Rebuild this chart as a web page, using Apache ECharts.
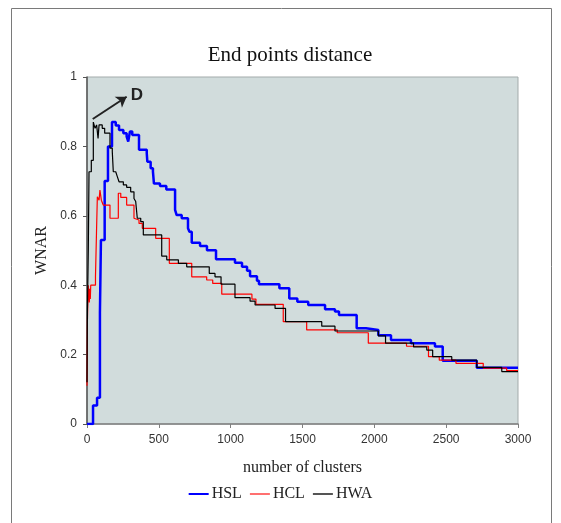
<!DOCTYPE html>
<html>
<head>
<meta charset="utf-8">
<script src="https://cdn.jsdelivr.net/npm/echarts@6/dist/echarts.min.js"></script>
<style>
  html, body { margin: 0; padding: 0; background: #fff; }
  #chart { width: 561px; height: 523px; }
</style>
</head>
<body>
<div id="chart"></div>
<script>
// step points: [number of clusters, WNAR] - value holds until the next point
const hslPoints = [
    [0, 0], [42, 0.053], [70, 0.076], [90, 0.32], [97, 0.53], [123, 0.70], [146, 0.80],
    [174, 0.87], [200, 0.86], [223, 0.847], [253, 0.838], [276, 0.828], [287, 0.814],
    [299, 0.843], [315, 0.833], [362, 0.79], [416, 0.78], [420, 0.756], [443, 0.737],
    [459, 0.727], [466, 0.693], [508, 0.686], [552, 0.676], [613, 0.617], [624, 0.602],
    [659, 0.593], [703, 0.564], [713, 0.554], [729, 0.522], [787, 0.513], [835, 0.501],
    [898, 0.475], [1030, 0.465], [1079, 0.453], [1114, 0.442], [1135, 0.426], [1183, 0.413],
    [1197, 0.403], [1339, 0.391], [1408, 0.362], [1464, 0.352], [1540, 0.343], [1657, 0.331],
    [1726, 0.324], [1754, 0.314], [1877, 0.276], [1942, 0.271], [2028, 0.256], [2116, 0.242],
    [2255, 0.233], [2422, 0.223], [2476, 0.182], [2713, 0.162], [3000, 0.162]
];

const hclPoints = [
    [0, 0.11], [3, 0.30], [9, 0.40], [16, 0.35], [19, 0.39], [23, 0.36], [26, 0.40],
    [59, 0.424], [66, 0.55], [72, 0.655], [84, 0.645], [90, 0.674], [100, 0.645],
    [113, 0.631], [160, 0.593], [218, 0.665], [235, 0.653], [276, 0.631], [327, 0.593],
    [339, 0.588], [362, 0.578], [385, 0.564], [478, 0.535], [573, 0.463], [729, 0.424],
    [833, 0.415], [875, 0.405], [938, 0.374], [1148, 0.36], [1176, 0.345], [1366, 0.295],
    [1529, 0.271], [1742, 0.263], [1958, 0.233], [2224, 0.224], [2377, 0.194], [2452, 0.184],
    [2568, 0.175], [2758, 0.161], [2921, 0.154], [3000, 0.154]
];

const hwaPoints = [
    [0, 0.12], [3, 0.33], [9, 0.50], [14, 0.727], [30, 0.76], [44, 0.87], [56, 0.852],
    [67, 0.862], [77, 0.823], [84, 0.862], [106, 0.852], [123, 0.838], [160, 0.795],
    [176, 0.785], [183, 0.727], [200, 0.722], [211, 0.713], [223, 0.698], [253, 0.689],
    [276, 0.682], [304, 0.669], [327, 0.65], [339, 0.641], [350, 0.593], [374, 0.583],
    [392, 0.545], [520, 0.484], [555, 0.473], [636, 0.463], [694, 0.453], [851, 0.434],
    [891, 0.424], [933, 0.403], [1030, 0.364], [1135, 0.354], [1170, 0.343], [1309, 0.333],
    [1382, 0.295], [1634, 0.282], [1726, 0.268], [2028, 0.254], [2078, 0.233], [2273, 0.222],
    [2365, 0.213], [2406, 0.194], [2539, 0.184], [2713, 0.163], [2887, 0.151], [3000, 0.151]
];

const seriesNames = ['HSL', 'HCL', 'HWA'];
const xTicks = [0, 500, 1000, 1500, 2000, 2500, 3000];
const yTicks = [0, 0.2, 0.4, 0.6, 0.8, 1];

// annotation "D": arrow from/to and label spot, in data units
const arrowFrom = [40, 0.879];
const arrowTo = [276, 0.943];
const labelAt = [348, 0.948];

const serif = 'Liberation Serif';
const sans = 'Liberation Sans';

const chart = echarts.init(document.getElementById('chart'), null, { renderer: 'canvas' });

function stepSeries(name, data, color, width, extra) {
    return Object.assign({
        name: name,
        type: 'line',
        step: 'end',
        data: data,
        symbol: 'none',
        animation: false,
        lineStyle: { color: color, width: width },
        itemStyle: { color: color }
    }, extra || {});
}

const option = {
    animation: false,
    graphic: [{
        type: 'rect',
        shape: { x: 11.5, y: 8.5, width: 540, height: 540 },
        style: { fill: 'none', stroke: '#7a7a7a', lineWidth: 1 },
        silent: true
    }],
    title: {
        text: 'End points distance',
        left: 285,
        top: 40,
        textAlign: 'center',
        textStyle: { fontFamily: serif, fontSize: 21, fontWeight: 'normal', color: '#111' }
    },
    legend: {
        data: [
            { name: 'HSL', itemStyle: { color: '#0000ff' } },
            { name: 'HCL', itemStyle: { color: '#ff7070' } },
            { name: 'HWA', itemStyle: { color: '#555555' } }
        ],
        icon: 'rect',
        left: 'center',
        top: 481,
        itemWidth: 20,
        itemHeight: 2,
        itemGap: 8,
        textStyle: { fontFamily: serif, fontSize: 16, color: '#222', padding: [0, 0, 0, -2] }
    },
    grid: {
        left: 87,
        right: 43,
        top: 77,
        bottom: 99,
        show: true,
        backgroundColor: '#d1dcdc',
        borderColor: '#a3abab',
        borderWidth: 1
    },
    xAxis: {
        type: 'value',
        min: 0,
        max: 3000,
        interval: 500,
        name: 'number of clusters',
        nameLocation: 'middle',
        nameGap: 36,
        nameTextStyle: { fontFamily: serif, fontSize: 16, color: '#222' },
        axisLine: { onZero: false, lineStyle: { color: '#808080', width: 1.5 } },
        axisTick: { show: true, length: 4, lineStyle: { color: '#808080' } },
        axisLabel: {
            fontFamily: sans, fontSize: 12, color: '#333', margin: 10,
            formatter: v => xTicks.includes(v) ? String(v) : ''
        },
        splitLine: { show: false }
    },
    yAxis: {
        type: 'value',
        min: 0,
        max: 1,
        interval: 0.2,
        name: 'WNAR',
        nameLocation: 'middle',
        nameGap: 36,
        nameTextStyle: { fontFamily: serif, fontSize: 16, color: '#222' },
        axisLine: { show: true, lineStyle: { color: '#555', width: 1.5 } },
        axisTick: { show: true, length: 4, lineStyle: { color: '#555' } },
        axisLabel: {
            fontFamily: sans, fontSize: 12, color: '#333', margin: 10,
            formatter: v => {
                const t = yTicks.find(k => Math.abs(k - v) < 1e-6);
                return t === undefined ? '' : String(t);
            }
        },
        splitLine: { show: false }
    },
    series: [
        stepSeries('HSL', hslPoints, '#0000ff', 2.5),
        stepSeries('HCL', hclPoints, '#ff0000', 1.2),
        stepSeries('HWA', hwaPoints, '#000000', 1.2, {
            markLine: {
                silent: true,
                symbol: ['none', 'arrow'],
                symbolSize: 10,
                animation: false,
                lineStyle: { color: '#222', width: 2, type: 'solid' },
                label: { show: false },
                data: [[{ coord: arrowFrom }, { coord: arrowTo }]]
            },
            markPoint: {
                silent: true,
                symbol: 'circle',
                symbolSize: 0,
                animation: false,
                label: {
                    show: true,
                    position: 'inside',
                    formatter: 'D',
                    fontFamily: sans,
                    fontWeight: 'bold',
                    fontSize: 17,
                    color: '#222'
                },
                data: [{ coord: labelAt }]
            }
        })
    ]
};

chart.setOption(option);
</script>
</body>
</html>
